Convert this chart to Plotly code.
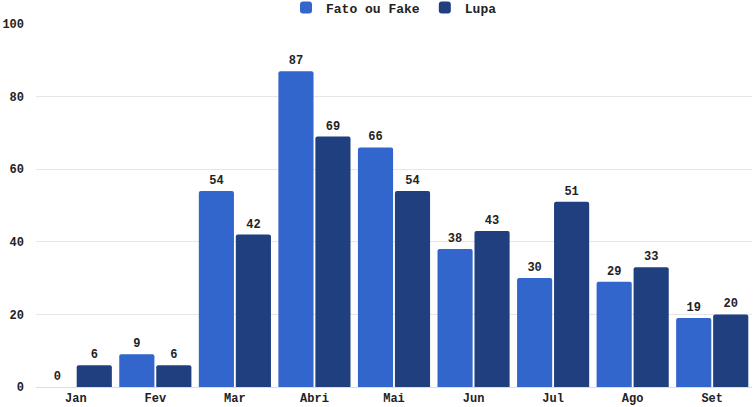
import plotly.graph_objects as go

categories = ["Jan", "Fev", "Mar", "Abri", "Mai", "Jun", "Jul", "Ago", "Set"]
fato_ou_fake = [0, 9, 54, 87, 66, 38, 30, 29, 19]
lupa = [6, 6, 42, 69, 54, 43, 51, 33, 20]
y_ticks = [0, 20, 40, 60, 80, 100]

FONT = "Liberation Mono"

fig = go.Figure()
fig.add_trace(go.Bar(
    name="Fato ou Fake", x=categories, y=fato_ou_fake,
    marker=dict(color="#3366CC", line=dict(width=0)),
    text=[str(v) for v in fato_ou_fake], textposition="outside",
    textfont=dict(family=FONT, size=12, color="#222222", weight="bold"),
    cliponaxis=False,
))
fig.add_trace(go.Bar(
    name="Lupa", x=categories, y=lupa,
    marker=dict(color="#1F3F7F", line=dict(width=0)),
    text=[str(v) for v in lupa], textposition="outside",
    textfont=dict(family=FONT, size=12, color="#222222", weight="bold"),
    cliponaxis=False,
))

fig.update_layout(
    width=754, height=407,
    margin=dict(l=36, r=2, t=24, b=20, autoexpand=False),
    paper_bgcolor="white", plot_bgcolor="white",
    barmode="group", bargap=0.07, bargroupgap=0.05,
    barcornerradius=2,
    font=dict(family=FONT, size=12, color="#222222", weight="bold"),
    legend=dict(orientation="h", x=0.5, xanchor="center",
                y=1.045, yanchor="middle",
                font=dict(family=FONT, size=13, color="#222222", weight="bold"),
                itemwidth=30, tracegroupgap=0, borderwidth=0,
                bgcolor="rgba(0,0,0,0)"),
    showlegend=True,
)
fig.update_xaxes(showgrid=False, showline=True, linecolor="#DDDDDD", linewidth=1,
                 ticks="", tickfont=dict(family=FONT, size=12, weight="bold"))
fig.update_yaxes(range=[0, 100], tickvals=y_ticks, showgrid=True, gridcolor="#E6E6E6",
                 gridwidth=1, zeroline=False, showline=False, ticks="",
                 ticklabelstandoff=11,
                 tickfont=dict(family=FONT, size=12, weight="bold"))

fig.write_html("out.html", config={"displayModeBar": False},
               post_script="document.body.style.margin='0';document.body.style.overflow='hidden';")
